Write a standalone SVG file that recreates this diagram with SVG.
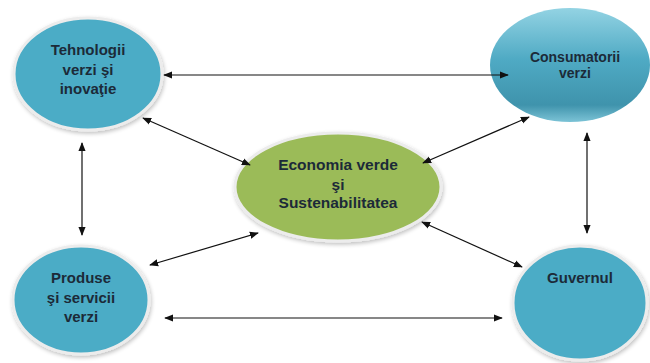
<svg xmlns="http://www.w3.org/2000/svg" width="650" height="363" viewBox="0 0 650 363">
<defs>
<style>
.node{stroke:#ececec;stroke-width:3;filter:url(#sh)}
.blue{fill:#4bacc6}
.green{fill:#9bbb59}
.t{font-family:"Liberation Sans",Arial,sans-serif;font-weight:bold;fill:#1c2a38;text-anchor:middle}
.c{stroke:#111;stroke-width:1.2;fill:none;marker-start:url(#ah);marker-end:url(#ah)}
</style>
<filter id="sh" x="-20%" y="-20%" width="140%" height="140%">
<feGaussianBlur in="SourceAlpha" stdDeviation="2"/>
<feOffset dx="1" dy="2" result="b"/>
<feComponentTransfer><feFuncA type="linear" slope="0.25"/></feComponentTransfer>
<feMerge><feMergeNode/><feMergeNode in="SourceGraphic"/></feMerge>
</filter>
<linearGradient id="cg" x1="0" y1="0" x2="0" y2="1">
<stop offset="0" stop-color="#93d3e3"/>
<stop offset="0.45" stop-color="#4faac4"/>
<stop offset="0.85" stop-color="#3f93ac"/>
<stop offset="1" stop-color="#7cc3d6"/>
</linearGradient>
<marker id="ah" viewBox="0 0 10 10" refX="9" refY="5" markerWidth="9" markerHeight="9" markerUnits="userSpaceOnUse" orient="auto-start-reverse">
<path d="M0,1 L10,5 L0,9 z" fill="#111"/>
</marker>
</defs>
<rect width="650" height="363" fill="#fff"/>
<g id="tehnologii">
<ellipse class="node blue" cx="88" cy="74" rx="74" ry="56"/>
<text class="t" x="88" y="55" font-size="15">Tehnologii</text>
<text class="t" x="88" y="75" font-size="15">verzi şi</text>
<text class="t" x="88" y="94" font-size="15">inovaţie</text>
</g>
<g id="consumatorii">
<ellipse cx="570" cy="65" rx="80" ry="57" fill="url(#cg)"/>
<text class="t" x="575" y="62" font-size="14">Consumatorii</text>
<text class="t" x="575" y="78" font-size="14">verzi</text>
</g>
<g id="economia">
<ellipse class="node green" cx="338" cy="187" rx="103" ry="54"/>
<text class="t" x="338" y="170" font-size="15.5">Economia verde</text>
<text class="t" x="338" y="190" font-size="15.5">şi</text>
<text class="t" x="338" y="208" font-size="15.5">Sustenabilitatea</text>
</g>
<g id="produse">
<ellipse class="node blue" cx="81" cy="300" rx="68" ry="54"/>
<text class="t" x="81" y="283" font-size="15">Produse</text>
<text class="t" x="81" y="303" font-size="15">şi servicii</text>
<text class="t" x="81" y="322" font-size="15">verzi</text>
</g>
<g id="guvernul">
<ellipse class="node blue" cx="580" cy="303" rx="67" ry="57"/>
<text class="t" x="580" y="283" font-size="15">Guvernul</text>
</g>
<g id="connectors">
<line class="c" x1="164" y1="75" x2="508" y2="75"/>
<line class="c" x1="143" y1="118" x2="250" y2="165"/>
<line class="c" x1="529" y1="117" x2="423" y2="163"/>
<line class="c" x1="82" y1="143" x2="82" y2="235"/>
<line class="c" x1="587" y1="133" x2="587" y2="233"/>
<line class="c" x1="150" y1="265" x2="258" y2="233"/>
<line class="c" x1="422" y1="222" x2="522" y2="267"/>
<line class="c" x1="165" y1="318" x2="502" y2="318"/>
</g>
</svg>
